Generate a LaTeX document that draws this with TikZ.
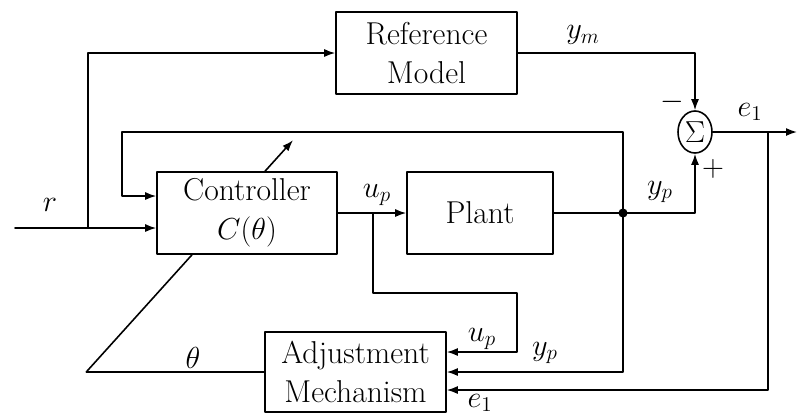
\documentclass[tikz,border=0pt]{standalone}
\usetikzlibrary{arrows.meta,shapes.geometric,calc}
\tikzstyle{every node}=[font=\fontsize{18}{22}\selectfont]
\tikzstyle{every path}=[line width=0.9pt,line cap=round,line join=round]
\tikzstyle{block}=[draw,align=center,minimum height=1.64cm,inner sep=0pt]
\tikzstyle{sig}=[-{Latex[length=2.2mm,width=1.6mm]}]

\begin{document}
\begin{tikzpicture}[x=0.02cm,y=-0.02cm]
% MRAC loop, pixel grid
	\useasboundingbox (0,0) rectangle (797,417);
	\node[block,minimum width=3.62cm] (refm) at (426.5,53) {Reference\\Model};
	\node[block,minimum width=3.6cm] (ctrl) at (247,213) {Controller\\$C(\theta)$};
	\node[block,minimum width=2.92cm] (plant) at (480,213) {Plant};
	\node[block,minimum width=3.62cm,minimum height=1.6cm] (adj) at (355.5,372) {Adjustment\\Mechanism};
	\node[draw,ellipse,minimum width=0.68cm,minimum height=0.84cm,inner sep=0pt] (sum) at (695,132) {$\Sigma$};
	\coordinate (in) at (15,228); %% in is the start of r
	\coordinate (rsplit) at (88,228); %% rsplit is where r goes up to the model
	\coordinate (upsplit) at (373,213); %% upsplit is the tap on u_p
	\coordinate (ypdot) at (623,213); %% ypdot is the tap on y_p
	\coordinate (esplit) at (768,132); %% esplit is the tap on e_1
	\coordinate (out) at (797,132);
	\draw[sig] (in) -- (ctrl.west |- in);
	\draw[sig] (rsplit) |- (refm.west);
	\draw[sig] (refm.east) -| (sum.north);
	\draw[sig] (sum.east) -- (out);
	\draw[sig] (ctrl.east) -- (plant.west);
	\draw (plant.east) -- (ypdot);
	\fill (ypdot) circle [radius=2.6pt];
	\draw[sig] (ypdot) -| (sum.south);
	\draw[sig] (ypdot) |- ++(-501,-81) |- ($(ctrl.west)+(0,-17)$);
	\draw[sig] (upsplit) -- ++(0,80) -- ++(144,0) -- ++(0,59) -- ($(adj.east)+(0,-20)$);
	\draw[sig] (ypdot) |- (adj.east);
	\draw[sig] (esplit) |- ($(adj.east)+(0,18)$);
	\draw (adj.west) -- ++(-178,0) coordinate (thcorner) -- ($(ctrl.south)+(-55,0)$); %% thcorner is the bend of theta
	\draw[sig] ($(ctrl.north)+(18,0)$) -- ++(28,-31);
	% labels
	\node (lr) at (50,205) {$r$};
	\node (lym) at (583,35) {$y_m$};
	\node (lminus) at (672,102) {$-$};
	\node (lplus) at (713,169) {$+$};
	\node (le) at (750,112) {$e_1$};
	\node (lup) at (377,195) {$u_p$};
	\node (lyp) at (660,192) {$y_p$};
	\node (lupa) at (482,339) {$u_p$};
	\node (lypa) at (545,353) {$y_p$};
	\node (lea) at (480,403) {$e_1$};
	\node (lth) at (193,358) {$\theta$};
\end{tikzpicture}
\end{document}
